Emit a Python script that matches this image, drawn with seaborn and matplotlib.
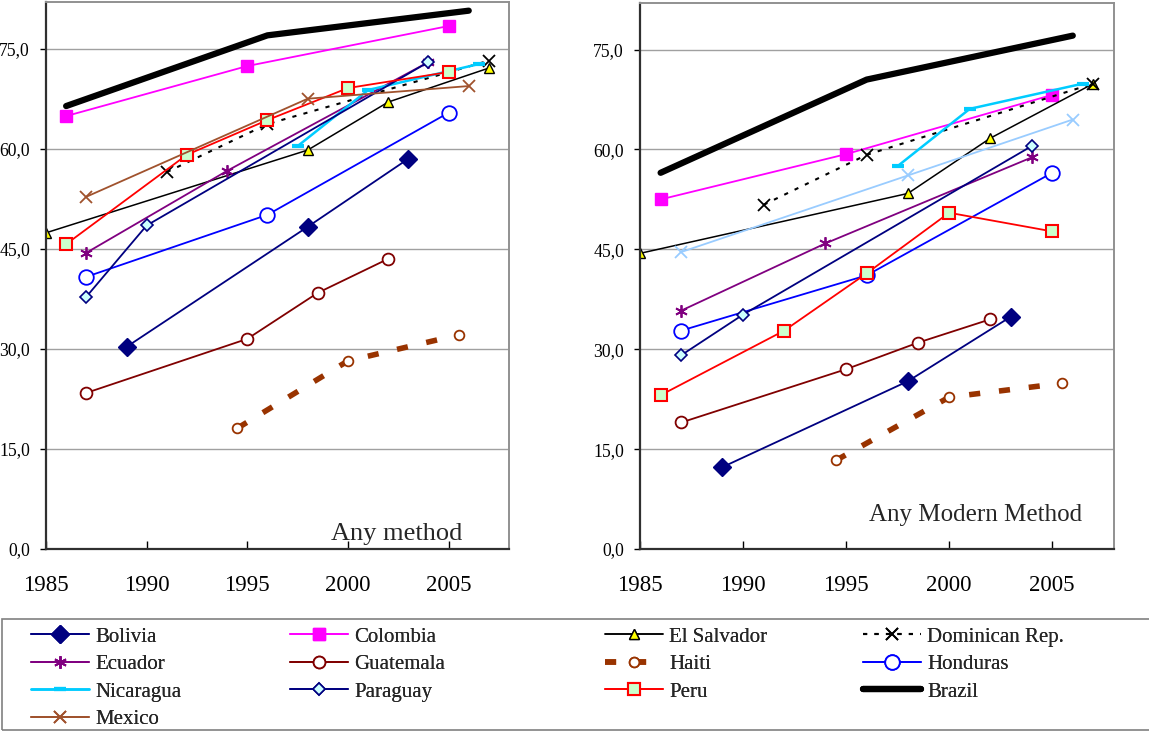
import matplotlib
matplotlib.use("Agg")
import matplotlib.pyplot as plt
import matplotlib.patches as mpatches
import seaborn as sns
import pandas as pd

# ---------------- data ----------------
panel_titles = ["Any method", "Any Modern Method"]
countries = ["Bolivia", "Colombia", "El Salvador", "Dominican Rep.", "Ecuador", "Guatemala",
             "Haiti", "Honduras", "Nicaragua", "Paraguay", "Peru", "Brazil", "Mexico"]

bolivia_yrs_any = [1989, 1998, 2003]
bolivia_any = [30.3, 48.3, 58.5]
bolivia_yrs_mod = [1989, 1998, 2003]
bolivia_mod = [12.3, 25.2, 34.9]

colombia_yrs_any = [1986, 1995, 2005]
colombia_any = [64.9, 72.4, 78.4]
colombia_yrs_mod = [1986, 1995, 2005]
colombia_mod = [52.5, 59.3, 68.2]

elsalvador_yrs_any = [1985, 1998, 2002, 2007]
elsalvador_any = [47.4, 59.8, 67.0, 72.1]
elsalvador_yrs_mod = [1985, 1998, 2002, 2007]
elsalvador_mod = [44.4, 53.4, 61.7, 69.9]

dominican_yrs_any = [1991, 1996, 2007]
dominican_any = [56.5, 63.7, 73.2]
dominican_yrs_mod = [1991, 1996, 2007]
dominican_mod = [51.7, 59.2, 69.9]

ecuador_yrs_any = [1987, 1994, 2004]
ecuador_any = [44.4, 56.7, 73.0]
ecuador_yrs_mod = [1987, 1994, 2004]
ecuador_mod = [35.8, 45.9, 58.8]

guatemala_yrs_any = [1987, 1995, 1998.5, 2002]
guatemala_any = [23.4, 31.5, 38.4, 43.5]
guatemala_yrs_mod = [1987, 1995, 1998.5, 2002]
guatemala_mod = [19.0, 27.0, 31.0, 34.5]

haiti_yrs_any = [1994.5, 2000, 2005.5]
haiti_any = [18.1, 28.2, 32.1]
haiti_yrs_mod = [1994.5, 2000, 2005.5]
haiti_mod = [13.3, 22.8, 24.9]

honduras_yrs_any = [1987, 1996, 2005]
honduras_any = [40.8, 50.1, 65.4]
honduras_yrs_mod = [1987, 1996, 2005]
honduras_mod = [32.8, 41.1, 56.5]

nicaragua_yrs_any = [1997.5, 2001, 2006.5]
nicaragua_any = [60.4, 68.8, 72.7]
nicaragua_yrs_mod = [1997.5, 2001, 2006.5]
nicaragua_mod = [57.5, 66.1, 69.9]

paraguay_yrs_any = [1987, 1990, 2004]
paraguay_any = [37.8, 48.5, 73.0]
paraguay_yrs_mod = [1987, 1990, 2004]
paraguay_mod = [29.1, 35.2, 60.5]

peru_yrs_any = [1986, 1992, 1996, 2000, 2005]
peru_any = [45.7, 59.1, 64.3, 69.1, 71.5]
peru_yrs_mod = [1986, 1992, 1996, 2000, 2005]
peru_mod = [23.1, 32.8, 41.4, 50.5, 47.7]

brazil_yrs_any = [1986, 1996, 2006]
brazil_any = [66.4, 77.0, 80.7]
brazil_yrs_mod = [1986, 1996, 2006]
brazil_mod = [56.5, 70.5, 77.1]

mexico_yrs_any = [1987, 1998, 2006]
mexico_any = [52.8, 67.5, 69.4]
mexico_yrs_mod = [1987, 1998, 2006]
mexico_mod = [44.6, 56.1, 64.5]

y_ticks = [0, 15, 30, 45, 60, 75]
x_ticks = [1985, 1990, 1995, 2000, 2005]

legend_columns = [
    ["Bolivia", "Ecuador", "Nicaragua", "Mexico"],
    ["Colombia", "Guatemala", "Paraguay"],
    ["El Salvador", "Haiti", "Peru"],
    ["Dominican Rep.", "Honduras", "Brazil"],
]

series = {
    "Bolivia": (bolivia_yrs_any, bolivia_any, bolivia_yrs_mod, bolivia_mod),
    "Colombia": (colombia_yrs_any, colombia_any, colombia_yrs_mod, colombia_mod),
    "El Salvador": (elsalvador_yrs_any, elsalvador_any, elsalvador_yrs_mod, elsalvador_mod),
    "Dominican Rep.": (dominican_yrs_any, dominican_any, dominican_yrs_mod, dominican_mod),
    "Ecuador": (ecuador_yrs_any, ecuador_any, ecuador_yrs_mod, ecuador_mod),
    "Guatemala": (guatemala_yrs_any, guatemala_any, guatemala_yrs_mod, guatemala_mod),
    "Haiti": (haiti_yrs_any, haiti_any, haiti_yrs_mod, haiti_mod),
    "Honduras": (honduras_yrs_any, honduras_any, honduras_yrs_mod, honduras_mod),
    "Nicaragua": (nicaragua_yrs_any, nicaragua_any, nicaragua_yrs_mod, nicaragua_mod),
    "Paraguay": (paraguay_yrs_any, paraguay_any, paraguay_yrs_mod, paraguay_mod),
    "Peru": (peru_yrs_any, peru_any, peru_yrs_mod, peru_mod),
    "Brazil": (brazil_yrs_any, brazil_any, brazil_yrs_mod, brazil_mod),
    "Mexico": (mexico_yrs_any, mexico_any, mexico_yrs_mod, mexico_mod),
}

# ---------------- styles ----------------
NAVY = "#000080"
styles = {
    "Bolivia": dict(color=NAVY, lw=1.3, marker="D", ms=9, mfc=NAVY, mec=NAVY, mew=1),
    "Colombia": dict(color="#FF00FF", lw=1.3, marker="s", ms=8, mfc="#FF00FF", mec="#FF00FF", mew=1),
    "El Salvador": dict(color="black", lw=1.1, marker="^", ms=7.5, mfc="#FFFF00", mec="black", mew=1),
    "Dominican Rep.": dict(color="black", lw=1.5, ls=(0, (2, 3.5)), marker="x", ms=8, mfc="none", mec="black", mew=1.3),
    "Ecuador": dict(color="#800080", lw=1.3, marker=(6, 2, 0), ms=9, mfc="#800080", mec="#800080", mew=1.3),
    "Guatemala": dict(color="#800000", lw=1.3, marker="o", ms=8.5, mfc="white", mec="#800000", mew=1.3),
    "Haiti": dict(color="#993300", lw=4.0, ls=(0, (2, 3.4)), marker="o", ms=7, mfc="white", mec="#993300", mew=1.3),
    "Honduras": dict(color="#0000FF", lw=1.3, marker="o", ms=10.5, mfc="white", mec="#0000FF", mew=1.3),
    "Nicaragua": dict(color="#00CCFF", lw=1.8, marker="_", ms=8, mfc="#00CCFF", mec="#00CCFF", mew=3),
    "Paraguay": dict(color=NAVY, lw=1.3, marker="D", ms=6, mfc="#CCFFFF", mec=NAVY, mew=1.2),
    "Peru": dict(color="#FF0000", lw=1.3, marker="s", ms=8.5, mfc="#CCFFCC", mec="#FF0000", mew=1.5),
    "Brazil": dict(color="black", lw=4.5, marker=None),
    "Mexico": dict(color="#A0522D", lw=1.3, marker="x", ms=9, mfc="none", mec="#A0522D", mew=1.3),
}

sns.set_style("white")
plt.rcParams["font.family"] = ["Liberation Serif", "DejaVu Serif"]

W, H = 1149, 731
fig = plt.figure(figsize=(W / 100, H / 100), dpi=100)
ax1 = fig.add_axes([46 / W, 1 - 549 / H, (509 - 46) / W, (549 - 2) / H])
ax2 = fig.add_axes([640 / W, 1 - 549 / H, (1114 - 640) / W, (549 - 3) / H])

text_pos = [(0.758, 0.016), (0.707, 0.051)]
text_size = [19, 18]

for pi, ax in enumerate([ax1, ax2]):
    for name in countries:
        xa, ya, xm, ym = series[name]
        xs, ys = (xa, ya) if pi == 0 else (xm, ym)
        st = dict(styles[name])
        if pi == 1 and name == "Mexico":
            st.update(color="#99CCFF", mec="#99CCFF")
        df = pd.DataFrame({"year": xs, "value": ys})
        kw = dict(color=st["color"], linewidth=st["lw"], linestyle=st.get("ls", "-"))
        if st.get("marker") is not None:
            kw.update(marker=st["marker"], markersize=st["ms"], markerfacecolor=st["mfc"],
                      markeredgecolor=st["mec"], markeredgewidth=st["mew"])
        sns.lineplot(data=df, x="year", y="value", ax=ax, label=name, legend=False,
                     estimator=None, sort=False, dash_capstyle="butt", solid_capstyle="round",
                     **kw)
    ax.set_xlim(1985, 2008)
    ax.set_ylim(0, 82)
    ax.set_xticks(x_ticks)
    ax.set_yticks(y_ticks)
    ax.set_yticklabels([f"{v:.1f}".replace(".", ",") for v in y_ticks], fontsize=12.7)
    ax.set_xticklabels([str(v) for v in x_ticks], fontsize=16.5)
    ax.set_xlabel("")
    ax.set_ylabel("")
    ax.grid(axis="y", color="#A0A0A0", lw=1)
    ax.grid(axis="x", visible=False)
    ax.set_axisbelow(True)
    ax.tick_params(axis="x", direction="in", length=6, width=1, pad=19, colors="black", bottom=True)
    ax.tick_params(axis="y", direction="out", length=4, width=1, pad=7.5, colors="black", left=True)
    for s in ["left", "bottom"]:
        ax.spines[s].set_color("#303030")
        ax.spines[s].set_linewidth(1.6)
    for s in ["top", "right"]:
        ax.spines[s].set_color("#909090")
        ax.spines[s].set_linewidth(1.4)
    tx, ty = text_pos[pi]
    ax.text(tx, ty, panel_titles[pi], transform=ax.transAxes, ha="center", va="baseline",
            fontsize=text_size[pi])

# legend: frame + one legend per column
handles, labels = ax1.get_legend_handles_labels()
hmap = dict(zip(labels, handles))
fig.patches.append(mpatches.Rectangle((2 / W, 1 - 730 / H), 1.0, (730 - 619) / H,
                                      transform=fig.transFigure, fill=False,
                                      edgecolor="#808080", linewidth=1.2))
col_x = [31, 290, 605, 863]
for cx, names in zip(col_x, legend_columns):
    lg = fig.legend([hmap[k] for k in names], names, loc="upper left",
                    bbox_to_anchor=(cx / W, 1 - 627 / H), ncol=1, fontsize=15,
                    frameon=False, handlelength=2.8, handletextpad=0.29,
                    labelspacing=0.38, borderaxespad=0, borderpad=0)
    fig.add_artist(lg)

fig.savefig("out.png", dpi=100)
